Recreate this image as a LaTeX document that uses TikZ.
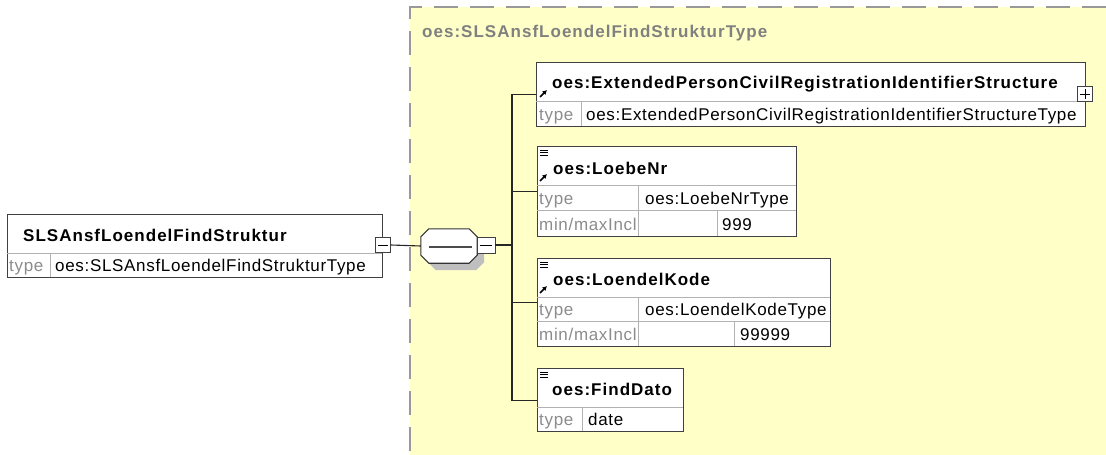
\documentclass[tikz,border=0pt]{standalone}
\usepackage{fontspec}
\setmainfont{Liberation Sans}[LetterSpace=4,BoldFeatures={LetterSpace=6}]
\usetikzlibrary{arrows.meta}
\definecolor{ctyellow}{RGB}{255,255,200}

\begin{document}
\begin{tikzpicture}[x=1pt,y=-1pt,font=\fontsize{17}{20}\selectfont]
\tikzstyle{elem}=[draw=black!75,fill=white,line width=1.1pt,inner sep=0pt,anchor=north west]
\tikzstyle{cell}=[draw=black!30,line width=0.9pt]
\tikzstyle{ttl}=[font=\fontsize{17}{20}\selectfont\bfseries,anchor=base west,inner sep=0pt]
\tikzstyle{lbl}=[text=black!45,anchor=base west,inner sep=0pt]
\tikzstyle{val}=[anchor=base west,inner sep=0pt]
\tikzstyle{btn}=[draw=black!75,fill=white,line width=0.9pt,minimum width=15pt,minimum height=15pt,inner sep=0pt]
\tikzstyle{wire}=[draw=black!85,line width=1.1pt]
\tikzstyle{octo}=[minimum width=56,minimum height=34,inner sep=0pt]
\tikzstyle{refmark}=[line width=1.6pt,-{Latex[length=4.5pt,width=5pt]}]
\useasboundingbox (0,0) rectangle (1106,455);

% complex type area
\fill[ctyellow] (410,7) rectangle (1106,455);
\draw[black!40,line width=1.5pt,dash pattern=on 24pt off 12pt] (1106,7) -- (410,7) -- (410,455);
\node[ttl,text=black!50] (ctname) at (422,37) {oes:SLSAnsfLoendelFindStrukturType};

% root element
\node[elem,minimum width=375,minimum height=63] (root) at (7,214) {};
\draw[cell] (7,253) -- (382,253);
\draw[cell] (50,253) -- (50,277);
\node[ttl] (roottitle) at (23,241) {SLSAnsfLoendelFindStruktur};
\node[lbl] (roottype) at (9,271) {type};
\node[val] (rootval) at (55,271) {oes:SLSAnsfLoendelFindStrukturType};
\node[btn] (rootminus) at (383,245) {};
\draw[line width=0.9pt] ([xshift=3]rootminus.west) -- ([xshift=-3]rootminus.east);

% sequence compositor
\node[octo] (seqshade) at (456,253) {};
\node[octo] (seq) at (449,246) {};
\fill[black!25] ([xshift=8]seqshade.north west) -- ([xshift=-8]seqshade.north east)
  -- ([yshift=-8]seqshade.north east) -- ([yshift=8]seqshade.south east) -- ([xshift=-8]seqshade.south east)
  -- ([xshift=8]seqshade.south west) -- ([yshift=8]seqshade.south west) -- ([yshift=-8]seqshade.north west) -- cycle;
\draw[black!80,fill=white,line width=1.1pt] ([xshift=8]seq.north west) -- ([xshift=-8]seq.north east)
  -- ([yshift=-8]seq.north east) -- ([yshift=8]seq.south east) -- ([xshift=-8]seq.south east)
  -- ([xshift=8]seq.south west) -- ([yshift=8]seq.south west) -- ([yshift=-8]seq.north west) -- cycle;
\draw[line width=1.1pt,black!70] ([xshift=8,yshift=-1]seq.west) -- ([xshift=-5,yshift=-1]seq.east);
\node[btn,minimum width=18pt,minimum height=16pt] (seqminus) at (486,245) {};
\draw[line width=0.9pt] ([xshift=3]seqminus.west) -- ([xshift=-3]seqminus.east);
\coordinate (fork) at (512,245);

% oes:ExtendedPersonCivilRegistrationIdentifierStructure
\node[elem,minimum width=549,minimum height=64] (ext) at (536,62) {};
\draw[cell] (536,101) -- (1085,101);
\draw[cell] (581,101) -- (581,126);
\node[ttl] (exttitle) at (552,88) {oes:ExtendedPersonCivilRegistrationIdentifierStructure};
\node[lbl] (exttype) at (539,120) {type};
\node[val] (extval) at (586,120) {oes:ExtendedPersonCivilRegistrationIdentifierStructureType};
\draw[refmark] (540,97) -- (547,90);
\node[btn] (extplus) at (1085,94) {};
\draw[line width=0.9pt] ([xshift=3]extplus.west) -- ([xshift=-3]extplus.east)
                        ([yshift=-3]extplus.north) -- ([yshift=3]extplus.south);

% oes:LoebeNr
\node[elem,minimum width=259,minimum height=90] (loebe) at (537,146) {};
\draw[cell] (537,185) -- (796,185) (537,210) -- (796,210);
\draw[cell] (638,185) -- (638,236) (717,210) -- (717,236);
\node[ttl] (loebetitle) at (553,174) {oes:LoebeNr};
\node[lbl] (loebetype) at (539,204) {type};
\node[val] (loebeval) at (645,204) {oes:LoebeNrType};
\node[lbl] (loebefacet) at (539,230) {min/maxIncl};
\node[val] (loebemax) at (722,230) {999};
\draw[refmark] (540,181) -- (547,174);

% oes:LoendelKode
\node[elem,minimum width=293,minimum height=88] (kode) at (537,258) {};
\draw[cell] (537,297) -- (830,297) (537,321) -- (830,321);
\draw[cell] (638,297) -- (638,346) (734,321) -- (734,346);
\node[ttl] (kodetitle) at (553,285) {oes:LoendelKode};
\node[lbl] (kodetype) at (539,315) {type};
\node[val] (kodeval) at (645,315) {oes:LoendelKodeType};
\node[lbl] (kodefacet) at (539,340) {min/maxIncl};
\node[val] (kodemax) at (740,340) {99999};
\draw[refmark] (540,293) -- (547,286);

% oes:FindDato
\node[elem,minimum width=146,minimum height=63] (dato) at (537,368) {};
\draw[cell] (537,407) -- (683,407);
\draw[cell] (582,407) -- (582,431);
\node[ttl] (datotitle) at (552,395) {oes:FindDato};
\node[lbl] (datotype) at (539,425) {type};
\node[val] (datoval) at (588,425) {date};

% "documentation" marks
\foreach \t in {146,258,368}
  \draw[line width=0.7pt] (540,\t+4) -- (548,\t+4) (540,\t+6.5) -- (548,\t+6.5) (540,\t+9) -- (548,\t+9);

% connectors
\draw[wire] (rootminus.east) -- (seq.west);
\draw[wire] (seqminus.east) -- (fork);
\draw[wire] (fork) |- (ext.west);
\draw[wire] (fork) |- (loebe.west);
\draw[wire] (fork) |- (kode.west);
\draw[wire] (fork) |- (dato.west);
\end{tikzpicture}
\end{document}
